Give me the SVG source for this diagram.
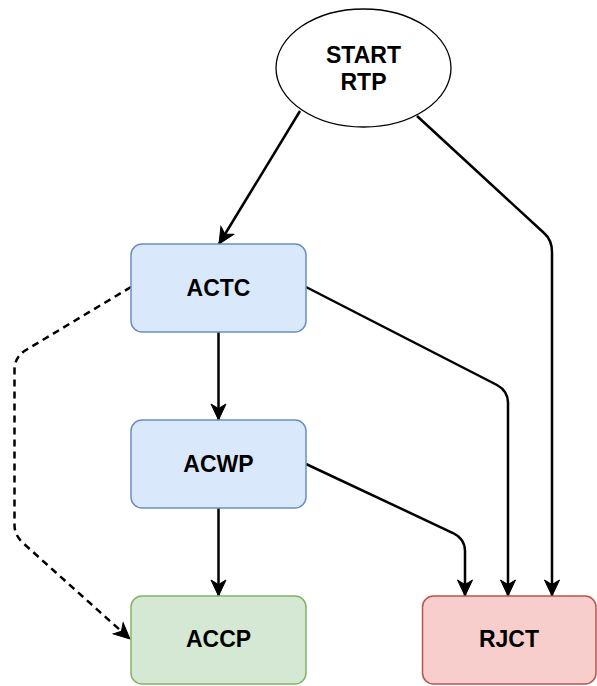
<svg xmlns="http://www.w3.org/2000/svg" width="597" height="686" viewBox="0 0 597 686">
<style>
.lbl{font-family:"Liberation Sans",Arial,Helvetica,sans-serif;font-weight:bold;font-size:23px;fill:#000;text-anchor:middle}
.blue{fill:#dae8fc;stroke:#6c8ebf;stroke-width:1.5}
.green{fill:#d5e8d4;stroke:#82b366;stroke-width:1.5}
.red{fill:#f8cecc;stroke:#b85450;stroke-width:1.5}
.edge{fill:none;stroke:#000;stroke-width:2.5;marker-end:url(#arr)}
.dash{stroke-dasharray:7 5}
</style>
<defs>
<marker id="arr" markerUnits="userSpaceOnUse" viewBox="-1 -9 18 18" markerWidth="18" markerHeight="18" refX="16" refY="0" orient="auto">
<path d="M0,-7.5 L16,0 L0,7.5 L4.5,0 Z" fill="#000" stroke="#000" stroke-width="1" stroke-linejoin="miter"/>
</marker>
</defs>
<rect width="597" height="686" fill="#fff"/>
<g id="connectors">
<path class="edge" d="M300,111 L219,244"/>
<path class="edge" d="M417,116 L544,233 Q552,240 552,252 L552,596"/>
<path class="edge" d="M306,287 L497,385 Q508,391 508,403 L508,596"/>
<path class="edge" d="M306,464 L453,533 Q465,539 465,551 L465,596"/>
<path class="edge" d="M218.5,332 L218.5,420"/>
<path class="edge" d="M218.5,508 L218.5,596"/>
<path class="edge dash" d="M131,287 L26,350 Q14.5,357 14.5,370 L14.5,525 Q14.5,535 23,543 L130,639"/>
</g>
<g id="start">
<ellipse cx="363.5" cy="68" rx="87.5" ry="59" fill="#fff" stroke="#000" stroke-width="1.3"/>
<text class="lbl" x="363.5" y="62.5">START</text>
<text class="lbl" x="363.5" y="90">RTP</text>
</g>
<g id="actc">
<rect class="blue" x="131" y="244" width="175" height="88" rx="11"/>
<text class="lbl" x="218.5" y="296">ACTC</text>
</g>
<g id="acwp">
<rect class="blue" x="131" y="420" width="175" height="88" rx="11"/>
<text class="lbl" x="218.5" y="472">ACWP</text>
</g>
<g id="accp">
<rect class="green" x="131" y="596" width="175" height="88" rx="11"/>
<text class="lbl" x="218.5" y="647">ACCP</text>
</g>
<g id="rjct">
<rect class="red" x="422.5" y="596" width="173.5" height="88" rx="11"/>
<text class="lbl" x="509" y="647">RJCT</text>
</g>
</svg>
